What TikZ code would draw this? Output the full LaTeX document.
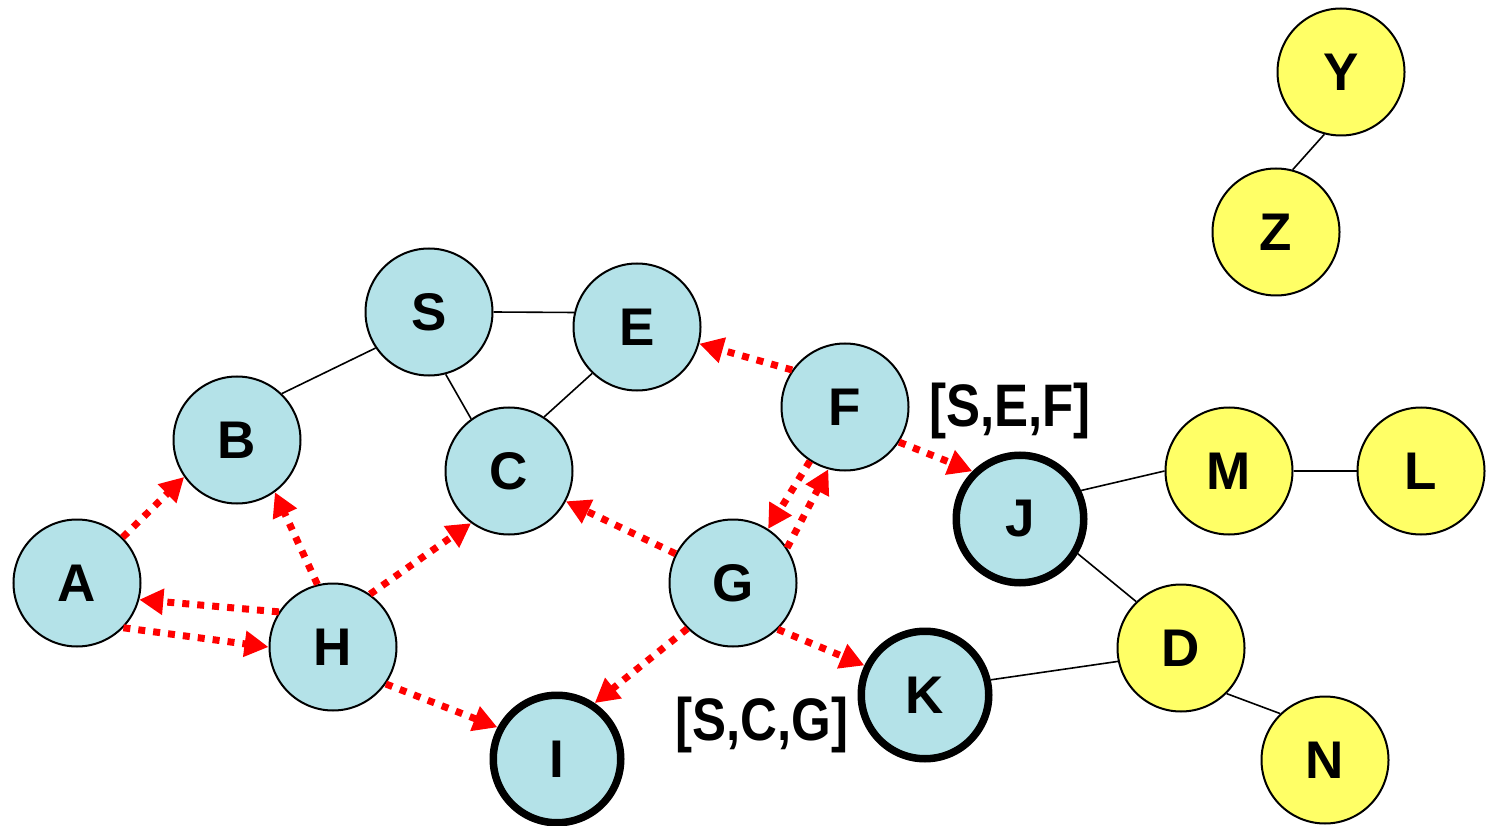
\documentclass[tikz,border=0pt]{standalone}
\usepackage{fontspec}
\setmainfont{Liberation Sans}
\usetikzlibrary{arrows.meta}
\definecolor{bubble}{RGB}{180,226,232}
\definecolor{ylw}{RGB}{255,255,102}
\definecolor{arrred}{RGB}{255,0,0}
\tikzset{
  bnode/.style={circle,draw=black,line width=2pt,fill=bubble,minimum size=127pt,inner sep=0pt,
    font=\fontsize{53}{53}\selectfont\bfseries},
  ynode/.style={circle,draw=black,line width=2pt,fill=ylw,minimum size=127pt,inner sep=0pt,
    font=\fontsize{53}{53}\selectfont\bfseries},
  goal/.style={line width=7.5pt,minimum size=127.5pt},
  link/.style={draw=black,line width=1.6pt},
  redarr/.style={draw=arrred,line width=7pt,dash pattern=on 7pt off 8pt,
    -{Triangle[length=24pt,width=25pt]}},
  lbl/.style={font=\fontsize{60}{60}\selectfont\bfseries,xscale=0.85,inner sep=0pt}
}
\begin{document}
\begin{tikzpicture}[x=1pt,y=-1pt]
\useasboundingbox (0,0) rectangle (1492,826);
% nodes
\node[ynode] (Y) at (1341,72) {Y};
\node[ynode] (Z) at (1276,232) {Z};
\node[bnode] (S) at (429,312) {S};
\node[bnode] (E) at (637,327) {E};
\node[bnode] (B) at (237,440) {B};
\node[bnode] (C) at (509,471) {C};
\node[bnode] (F) at (845,407) {F};
\node[bnode,goal] (J) at (1020,519) {J};
\node[ynode] (M) at (1229,471) {M};
\node[ynode] (L) at (1421,471) {L};
\node[bnode] (A) at (77,583) {A};
\node[bnode] (H) at (333,647) {H};
\node[bnode] (G) at (733,583) {G};
\node[ynode] (D) at (1181,648) {D};
\node[bnode,goal] (K) at (925,695) {K};
\node[bnode,goal] (I) at (557,759) {I};
\node[ynode] (N) at (1325,760) {N};
% labels
\node[lbl] (lsef) at (1010,411) {[S,E,F]};
\node[lbl] (lscg) at (762,725) {[S,C,G]};
% black links
\draw[link] (S.214) -- (B.46);
\draw[link] (S.0) -- (E.167);
\draw[link] (S.-75) -- (C.126);
\draw[link] (E.226) -- (C.57);
\draw[link] (Y.255) -- (Z.75);
\draw[link] (J.25) -- (M.180);
\draw[link] (M.0) -- (L.180);
\draw[link] (J.-31) -- (D.134);
\draw[link] (K.13) -- (D.192);
\draw[link] (D.-45) -- (N.134);
% red dotted arrows
\draw[redarr] (A.45) -- (B.215);
\draw[redarr] (H.104) -- (B.-54);
\draw[redarr] (H.147) -- (A.-15);
\draw[redarr] (A.-44) -- (H.180);
\draw[redarr] (H.55) -- (C.234);
\draw[redarr] (H.-35) -- (I.152);
\draw[redarr] (G.153) -- (C.-28);
\draw[redarr] (G.225) -- (I.56);
\draw[redarr] (G.-46) -- (K.154);
\draw[redarr] (F.145) -- (E.-15);
\draw[redarr] (F.237) -- (G.57);
\draw[redarr] (G.33) -- (F.255);
\draw[redarr] (F.-33) -- (J.135);
\end{tikzpicture}
\end{document}
